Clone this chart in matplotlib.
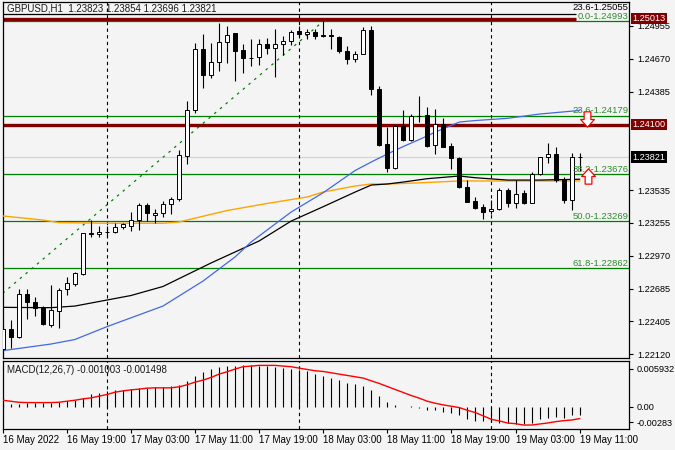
import matplotlib
matplotlib.use("Agg")
import matplotlib.pyplot as plt
from matplotlib.path import Path

# GBPUSD H1, 16 May 11:00 .. 19 May 11:00 (bar index 0..72)
opens = [1.22161, 1.22333, 1.22264, 1.22636, 1.22566, 1.22515, 1.22370, 1.22491, 1.22679, 1.22724,
         1.22808, 1.23167, 1.23154, 1.23173, 1.23171, 1.23214, 1.23228, 1.23275, 1.23404, 1.23320,
         1.23335, 1.23415, 1.23458, 1.23830, 1.24227, 1.24751, 1.24527, 1.24639, 1.24817, 1.24888,
         1.24745, 1.24679, 1.24682, 1.24794, 1.24760, 1.24794, 1.24825, 1.24909, 1.24882, 1.24900,
         1.24875, 1.24875, 1.24855, 1.24739, 1.24670, 1.24711, 1.24917, 1.24408, 1.23931, 1.23724,
         1.24089, 1.23968, 1.24175, 1.24181, 1.23922, 1.24104, 1.23916, 1.23810, 1.23565, 1.23441,
         1.23387, 1.23355, 1.23369, 1.23536, 1.23421, 1.23508, 1.23427, 1.23674, 1.23818, 1.23847,
         1.23629, 1.23450, 1.23823]
highs = [1.22362, 1.22414, 1.22681, 1.22681, 1.22615, 1.22534, 1.22716, 1.22687, 1.22787, 1.22831,
         1.23169, 1.23277, 1.23225, 1.23225, 1.23254, 1.23254, 1.23349, 1.23427, 1.23427, 1.23369,
         1.23444, 1.23478, 1.23881, 1.24307, 1.24803, 1.24881, 1.24803, 1.24976, 1.24952, 1.24890,
         1.24797, 1.24837, 1.24837, 1.24846, 1.24924, 1.24866, 1.24918, 1.24952, 1.24924, 1.24924,
         1.24993, 1.24924, 1.24866, 1.24780, 1.24739, 1.24941, 1.24952, 1.24434, 1.24083, 1.24097,
         1.24227, 1.24192, 1.24348, 1.24250, 1.24233, 1.24155, 1.23945, 1.23824, 1.23622, 1.23478,
         1.23415, 1.23450, 1.23551, 1.23551, 1.23622, 1.23536, 1.23694, 1.23822, 1.23939, 1.23905,
         1.23651, 1.23853, 1.23854]
lows = [1.22146, 1.22172, 1.22258, 1.22420, 1.22448, 1.22370, 1.22356, 1.22342, 1.22629, 1.22707,
        1.22802, 1.23128, 1.23128, 1.23128, 1.23167, 1.23197, 1.23185, 1.23191, 1.23271, 1.23254,
        1.23300, 1.23329, 1.23444, 1.23758, 1.24198, 1.24414, 1.24506, 1.24566, 1.24630, 1.24480,
        1.24544, 1.24607, 1.24616, 1.24711, 1.24515, 1.24702, 1.24788, 1.24869, 1.24842, 1.24837,
        1.24855, 1.24751, 1.24717, 1.24622, 1.24644, 1.24711, 1.24357, 1.23915, 1.23694, 1.23720,
        1.23962, 1.23962, 1.24126, 1.23910, 1.23847, 1.23905, 1.23715, 1.23555, 1.23430, 1.23372,
        1.23283, 1.23326, 1.23363, 1.23392, 1.23383, 1.23415, 1.23427, 1.23666, 1.23767, 1.23608,
        1.23421, 1.23363, 1.23696]
closes = [1.22333, 1.22264, 1.22636, 1.22566, 1.22515, 1.22376, 1.22500, 1.22673, 1.22730, 1.22817,
          1.23162, 1.23154, 1.23173, 1.23170, 1.23214, 1.23240, 1.23275, 1.23404, 1.23338, 1.23338,
          1.23415, 1.23458, 1.23838, 1.24227, 1.24751, 1.24527, 1.24639, 1.24817, 1.24875, 1.24739,
          1.24679, 1.24675, 1.24794, 1.24760, 1.24794, 1.24825, 1.24903, 1.24881, 1.24899, 1.24866,
          1.24863, 1.24863, 1.24739, 1.24670, 1.24711, 1.24917, 1.24406, 1.23924, 1.23724, 1.24089,
          1.23968, 1.24175, 1.24172, 1.23916, 1.24104, 1.23910, 1.23810, 1.23559, 1.23435, 1.23378,
          1.23349, 1.23372, 1.23536, 1.23421, 1.23499, 1.23427, 1.23674, 1.23818, 1.23847, 1.23622,
          1.23450, 1.23823, 1.23821]

# moving averages read at some bars
ma_blue_idx = [0, 6, 9, 13, 20, 25, 29, 31, 36, 40, 44, 46, 48, 50, 52, 54, 57, 59, 63, 67, 72]
ma_blue = [1.22149, 1.22206, 1.22245, 1.22356, 1.22534, 1.22750, 1.22958, 1.23087, 1.23346, 1.23513,
           1.23705, 1.23778, 1.23847, 1.23912, 1.23972, 1.24037, 1.24123, 1.24136, 1.24155, 1.24192, 1.24223]
ma_black_idx = [0, 6, 9, 13, 16, 20, 26, 32, 36, 40, 44, 46, 48, 50, 53, 57, 59, 63, 67, 72]
ma_black = [1.22523, 1.22520, 1.22534, 1.22586, 1.22625, 1.22703, 1.22906, 1.23096, 1.23268, 1.23392,
            1.23519, 1.23579, 1.23588, 1.23605, 1.23634, 1.23657, 1.23642, 1.23622, 1.23622, 1.23629]
ma_orange_idx = [0, 5, 7, 13, 20, 22, 28, 33, 38, 40, 44, 46, 48, 52, 57, 72]
ma_orange = [1.23312, 1.23277, 1.23255, 1.23249, 1.23249, 1.23260, 1.23359, 1.23420, 1.23476, 1.23519,
             1.23571, 1.23588, 1.23588, 1.23598, 1.23614, 1.23614]

# MACD(12,26,7) histogram and signal
macd_hist = [0.00034, 0.00043, 0.00043, 0.00047, 0.00047, 0.00052, 0.00056, 0.00064, 0.00077, 0.00090,
             0.00120, 0.00163, 0.00185, 0.00206, 0.00215, 0.00223, 0.00236, 0.00241, 0.00249, 0.00254,
             0.00258, 0.00266, 0.00279, 0.00327, 0.00400, 0.00451, 0.00486, 0.00507, 0.00524, 0.00529,
             0.00533, 0.00533, 0.00529, 0.00520, 0.00507, 0.00498, 0.00486, 0.00473, 0.00455, 0.00421,
             0.00391, 0.00365, 0.00344, 0.00305, 0.00292, 0.00271, 0.00219, 0.00142, 0.00069, 0.00030,
             0.00002, 0.00009, -0.00013, -0.00043, -0.00039, -0.00060, -0.00073, -0.00103, -0.00159, -0.00180,
             -0.00180, -0.00189, -0.00211, -0.00211, -0.00223, -0.00223, -0.00202, -0.00159, -0.00138, -0.00129,
             -0.00138, -0.00103, -0.001003]
macd_signal = [0.00086, 0.00073, 0.00060, 0.00056, 0.00056, 0.00056, 0.00056, 0.00060, 0.00073, 0.00086,
               0.00103, 0.00116, 0.00138, 0.00159, 0.00189, 0.00206, 0.00219, 0.00228, 0.00241, 0.00245,
               0.00245, 0.00245, 0.00258, 0.00284, 0.00318, 0.00344, 0.00378, 0.00421, 0.00451, 0.00486,
               0.00516, 0.00524, 0.00533, 0.00533, 0.00533, 0.00524, 0.00516, 0.00498, 0.00481, 0.00464,
               0.00455, 0.00438, 0.00421, 0.00404, 0.00387, 0.00370, 0.00335, 0.00301, 0.00262, 0.00223,
               0.00185, 0.00146, 0.00112, 0.00073, 0.00047, 0.00026, 0.00009, -0.00009, -0.00043, -0.00073,
               -0.00116, -0.00159, -0.00180, -0.00206, -0.00215, -0.00232, -0.00232, -0.00219, -0.00206, -0.00189,
               -0.00176, -0.00168, -0.001498]

time_labels = ["16 May 2022", "16 May 19:00", "17 May 03:00", "17 May 11:00", "17 May 19:00",
               "18 May 03:00", "18 May 11:00", "18 May 19:00", "19 May 03:00", "19 May 11:00"]
day_breaks = [13, 37, 61]

fib_levels = [1.24993, 1.24179, 1.23676, 1.23269, 1.22862]
fib_names = ["0.0", "23.6", "38.2", "50.0", "61.8"]
fib2_level = 1.25055
top_resist = 1.25013
main_resist = 1.24100
top_lines_end = 71.6   # the two top lines stop short of the labels
trend_idx = [0, 40]
trend_px = [1.22644, 1.24993]
bid = 1.23821
arrow_down_px = 1.24149
arrow_up_px = 1.23657

price_ticks = [1.22120, 1.22405, 1.22685, 1.22970, 1.23255, 1.23535, 1.24385, 1.24670, 1.24955]

bg = "#f4f4f4"
fib_col = "#2e8b2e"
red_col = "#800000"
fs = 6.6
plt.rcParams['font.family'] = ['Liberation Sans', 'DejaVu Sans']

fig = plt.figure(figsize=(6.75, 4.5), dpi=100, facecolor=bg)
W, H = 675.0, 450.0
ax = fig.add_axes([2.7 / W, 1 - 358.3 / H, 626.6 / W, 356.6 / H], facecolor=bg)
ax2 = fig.add_axes([2.7 / W, 1 - 429 / H, 626.6 / W, 68.3 / H], facecolor=bg)

n = len(opens)
xs = list(range(n))

# price pane
ax.axhline(bid, color="#cfcfe8", lw=0.8, zorder=1)
for lv in fib_levels:
    ax.axhline(lv, color="green", lw=0.9, zorder=2)
ax.hlines(fib2_level, 0, top_lines_end, color="black", lw=0.9, zorder=2)
ax.hlines(top_resist, 0, top_lines_end, color=red_col, lw=2.4, zorder=2)
ax.axhline(main_resist, color=red_col, lw=2.4, zorder=2)
ax.plot(trend_idx, trend_px, color="green", lw=0.9, ls=(0, (2, 4)), zorder=2)

ax.plot(ma_orange_idx, ma_orange, color="orange", lw=1.0, zorder=3)
ax.plot(ma_black_idx, ma_black, color="black", lw=0.9, zorder=3)
ax.plot(ma_blue_idx, ma_blue, color="#4169e1", lw=0.9, zorder=3)

for x in day_breaks:
    ax.axvline(x, color="black", lw=0.8, ls=(0, (3, 3)), zorder=2)
    ax2.axvline(x, color="black", lw=0.8, ls=(0, (3, 3)), zorder=2)

ax.vlines(xs, lows, highs, color="black", lw=0.8, zorder=4)
up = [c >= o for o, c in zip(opens, closes)]
bodies = [max(abs(c - o), 0.000005) for o, c in zip(opens, closes)]
bottoms = [min(o, c) for o, c in zip(opens, closes)]
ax.bar(xs, bodies, bottom=bottoms, width=0.5,
       color=["white" if u else "black" for u in up], edgecolor="black", lw=0.7, zorder=5)

# arrows
arrow = Path([(-0.22, 0.5), (0.22, 0.5), (0.22, 0.0), (0.45, 0.0), (0.0, -0.5),
              (-0.45, 0.0), (-0.22, 0.0), (-0.22, 0.5)], closed=True)
arrow_up = Path([(v[0], -v[1]) for v in arrow.vertices], closed=True)
ax.plot([72.9], [arrow_down_px], marker=arrow, ms=11, mfc="white", mec="red", mew=0.9, zorder=6)
ax.plot([73.0], [arrow_up_px], marker=arrow_up, ms=11, mfc="white", mec="red", mew=0.9, zorder=6)

ax.set_xlim(0, 78.2)
ax.set_ylim(1.22083, 1.25162)
ax.yaxis.tick_right()
ax.set_yticks(price_ticks)
ax.set_yticklabels(["%.5f" % v for v in price_ticks])
ax.tick_params(axis="y", length=3, width=0.8, pad=3, labelsize=fs, colors="black")
ax.tick_params(axis="x", length=0, labelbottom=False)

yt = ax.get_yaxis_transform()
for lv, nm in zip(fib_levels, fib_names):
    ax.text(0.9985, lv + 0.00002, "%s-%.5f" % (nm, lv), transform=yt, ha="right", va="bottom",
            fontsize=fs + 0.2, color=fib_col, zorder=5)
ax.text(0.9985, fib2_level + 0.00019, "23.6-%.5f" % fib2_level, transform=yt, ha="right", va="bottom",
        fontsize=fs + 0.2, color="black", zorder=5)
for lv in (top_resist, main_resist):
    ax.text(1.005, lv + 0.00005, "%.5f" % lv, transform=yt, ha="left", va="center", fontsize=fs,
            color="white", bbox=dict(boxstyle="square,pad=0.12", fc=red_col, ec="none"),
            clip_on=False, zorder=10)
ax.text(1.005, bid, "%.5f" % bid, transform=yt, ha="left", va="center", fontsize=fs, color="white",
        bbox=dict(boxstyle="square,pad=0.12", fc="black", ec="none"), clip_on=False, zorder=10)
ax.text(0.007, 0.982, "GBPUSD,H1  %.5f %.5f %.5f %.5f" % (opens[-1], highs[-1], lows[-1], closes[-1]),
        transform=ax.transAxes, ha="left", va="center", fontsize=fs + 0.4, color="#1a1a1a", zorder=1)

# MACD pane
ax2.vlines(xs, 0, macd_hist, color="black", lw=0.8, zorder=3)
ax2.plot(xs, macd_signal, color="red", lw=1.0, zorder=4)
ax2.set_xlim(0, 78.2)
mlo, mhi = -0.00283, 0.005932
ax2.set_ylim(mlo, mhi)
ax2.yaxis.tick_right()
rng = mhi - mlo
ax2.set_yticks([mhi - 0.12 * rng, 0.0, mlo + 0.1 * rng])
ax2.set_yticklabels(["%.6f" % mhi, "0.00", "%.5f" % mlo])
ax2.tick_params(axis="y", length=3, width=0.8, pad=2.5, labelsize=fs)
ax2.set_xticks(list(range(0, n, 8)))
ax2.set_xticklabels(time_labels)
ax2.tick_params(axis="x", length=3, width=0.8, pad=1.5, labelsize=fs + 0.4)
for t in ax2.get_xticklabels():
    t.set_ha("left")
ax2.text(0.007, 0.86, "MACD(12,26,7) %.6f %.6f" % (macd_hist[-1], macd_signal[-1]),
         transform=ax2.transAxes, ha="left", va="center", fontsize=fs + 0.4, color="#1a1a1a")

for a in (ax, ax2):
    for s in a.spines.values():
        s.set_linewidth(0.9)

fig.savefig("out.png", dpi=100, facecolor=bg)
